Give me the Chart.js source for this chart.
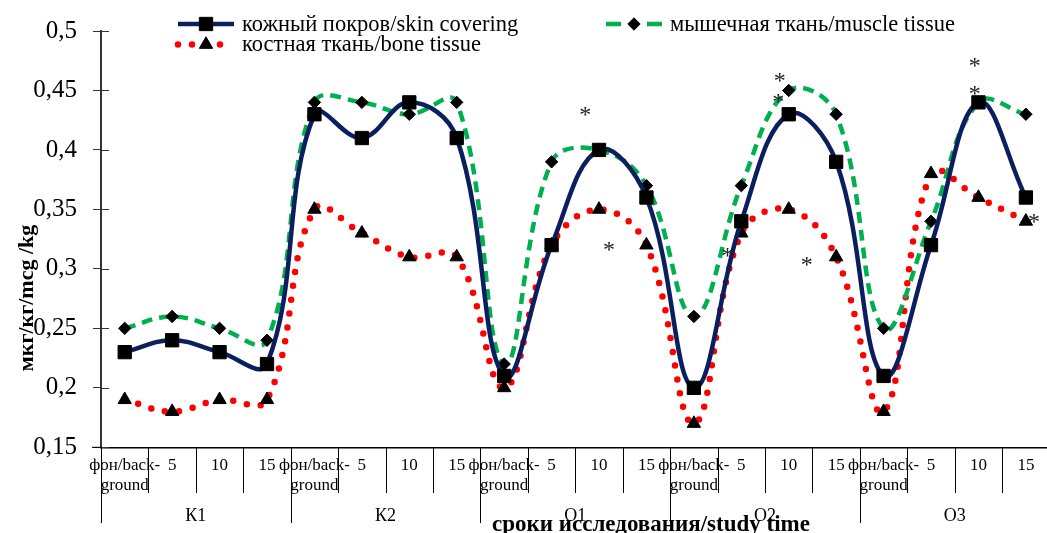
<!DOCTYPE html>
<html>
<head>
<meta charset="utf-8">
<script src="https://cdn.jsdelivr.net/npm/chart.js@4.4.0/dist/chart.umd.min.js"></script>
<style>
    html, body { margin: 0; padding: 0; background: #fff; overflow: hidden; }
    #wrap { width: 1060px; height: 533px; }
</style>
</head>
<body>
<div id="wrap"><canvas id="chart" width="1060" height="533"></canvas></div>
<script>
// study time points inside each group, and the groups
const timePoints = [['фон/back-', 'ground'], '5', '10', '15'];
const groups = ['К1', 'К2', 'О1', 'О2', 'О3'];

// мкг/кг per time point
const skin = [0.23, 0.24, 0.23, 0.22, 0.43, 0.41, 0.44, 0.41, 0.21, 0.32, 0.40, 0.36, 0.20, 0.34, 0.43, 0.39, 0.21, 0.32, 0.44, 0.36];
const muscle = [0.25, 0.26, 0.25, 0.24, 0.44, 0.44, 0.43, 0.44, 0.22, 0.39, 0.40, 0.37, 0.26, 0.37, 0.45, 0.43, 0.25, 0.34, 0.44, 0.43];
const bone = [0.19, 0.18, 0.19, 0.19, 0.35, 0.33, 0.31, 0.31, 0.20, 0.32, 0.35, 0.32, 0.17, 0.33, 0.35, 0.31, 0.18, 0.38, 0.36, 0.34];

// significance asterisks: [category index (fractional), value]
const stars = [[9.71, 0.433], [10.21, 0.319], [12.71, 0.314], [13.81, 0.461], [13.78, 0.444], [14.38, 0.307], [17.92, 0.474], [17.92, 0.450], [19.17, 0.343]];

const yTitle = 'мкг/кг/mcg /kg';
const xTitle = 'сроки исследования/study time';

const labels = groups.flatMap(() => timePoints);
const SERIF = '"Liberation Serif", "Times New Roman", serif';

const COLORS = {
    navy: '#0b1f5e',
    green: '#00b050',
    red: '#ff0000',
    black: '#000000'
};

function line(ctx, x1, y1, x2, y2) {
    ctx.beginPath();
    ctx.moveTo(x1, y1);
    ctx.lineTo(x2, y2);
    ctx.stroke();
}

const decor = {
    id: 'decor',
    afterDraw(chart) {
        const ctx = chart.ctx;
        const area = chart.chartArea;
        const x = chart.scales.x;
        const y = chart.scales.y;
        ctx.save();

        // inner half of y ticks + axis stub on the left
        ctx.strokeStyle = '#333';
        ctx.lineWidth = 1;
        y.ticks.forEach(t => {
            const py = Math.round(y.getPixelForValue(t.value)) + 0.5;
            line(ctx, area.left, py, area.left + 8, py);
        });
        ctx.strokeStyle = '#000';
        line(ctx, area.left - 9, area.bottom, area.left, area.bottom);

        // category dividers and group dividers
        for (let i = 0; i <= labels.length; i++) {
            const px = Math.round(x.getPixelForValue(i - 0.5)) + 0.5;
            const end = i % timePoints.length === 0 ? 523 : 493;
            line(ctx, px, area.bottom, px, end);
        }

        ctx.fillStyle = '#000';
        ctx.textAlign = 'center';
        ctx.textBaseline = 'middle';
        ctx.font = '18px ' + SERIF;
        groups.forEach((g, k) => {
            const cx = x.getPixelForValue(k * timePoints.length + (timePoints.length - 1) / 2);
            ctx.fillText(g, cx, 516);
        });

        ctx.font = 'bold 23px ' + SERIF;
        ctx.textBaseline = 'alphabetic';
        ctx.fillText(xTitle, 651, 531);

        ctx.save();
        ctx.translate(27, 298);
        ctx.rotate(-Math.PI / 2);
        ctx.font = 'bold 22px ' + SERIF;
        ctx.textBaseline = 'middle';
        ctx.fillText(yTitle, 0, 0);
        ctx.restore();

        // asterisks
        ctx.font = '24px ' + SERIF;
        ctx.textBaseline = 'alphabetic';
        ctx.fillStyle = '#222';
        stars.forEach(([i, v]) => {
            ctx.fillText('*', x.getPixelForValue(i), y.getPixelForValue(v) + 11);
        });

        // legend
        const spots = [[175, 24], [603, 24], [175, 44.5]];
        chart.data.datasets.forEach((ds, k) => {
            const [lx, ly] = spots[k];
            ctx.save();
            ctx.strokeStyle = ds.borderColor;
            ctx.lineWidth = ds.borderWidth;
            ctx.lineCap = ds.borderCapStyle || 'butt';
            ctx.setLineDash(ds.legendDash || []);
            line(ctx, lx + 3, ly, lx + 59, ly);
            ctx.restore();
            ctx.fillStyle = COLORS.black;
            ctx.strokeStyle = COLORS.black;
            ctx.lineWidth = 1;
            Chart.helpers.drawPoint(ctx, {pointStyle: ds.pointStyle, radius: ds.pointRadius, rotation: 0, borderWidth: 1}, lx + 31, ly);
            ctx.fillStyle = '#000';
            ctx.font = '22.5px ' + SERIF;
            ctx.textAlign = 'left';
            ctx.textBaseline = 'middle';
            ctx.fillText(ds.label, lx + 67, ly + 1);
        });

        ctx.restore();
    }
};

const data = {
    labels: labels,
    datasets: [
        {
            label: 'кожный покров/skin covering',
            data: skin,
            borderColor: COLORS.navy,
            borderWidth: 4.5,
            tension: 0.4,
            fill: false,
            pointStyle: 'rect',
            pointRadius: 9.4,
            pointBackgroundColor: COLORS.black,
            pointBorderColor: COLORS.black,
            pointBorderWidth: 1,
            legendDash: []
        }, {
            label: 'мышечная ткань/muscle tissue',
            data: muscle,
            borderColor: COLORS.green,
            borderWidth: 4.5,
            borderDash: [11, 7],
            tension: 0.4,
            fill: false,
            pointStyle: 'rectRot',
            pointRadius: 6.2,
            pointBackgroundColor: COLORS.black,
            pointBorderColor: COLORS.black,
            pointBorderWidth: 1,
            legendDash: [15, 26]
        }, {
            label: 'костная ткань/bone tissue',
            data: bone,
            borderColor: COLORS.red,
            borderWidth: 6.5,
            borderDash: [0, 14],
            borderCapStyle: 'round',
            tension: 0.4,
            fill: false,
            pointStyle: 'triangle',
            pointRadius: 7.7,
            pointBackgroundColor: COLORS.black,
            pointBorderColor: COLORS.black,
            pointBorderWidth: 1,
            legendDash: [0, 14]
        }
    ]
};

const config = {
    type: 'line',
    data: data,
    options: {
        responsive: false,
        animation: false,
        layout: {
            padding: {top: 22, right: 1, left: 0, bottom: 0}
        },
        plugins: {
            legend: {display: false},
            tooltip: {enabled: false},
            title: {display: false}
        },
        scales: {
            x: {
                offset: true,
                grid: {display: false, drawTicks: false},
                border: {display: true, color: '#000', width: 1.5},
                ticks: {
                    color: '#000',
                    font: {family: SERIF, size: 17},
                    padding: 8,
                    maxRotation: 0,
                    autoSkip: false
                },
                afterFit: s => { s.height = 85.7; }
            },
            y: {
                min: 0.15,
                max: 0.5,
                ticks: {
                    stepSize: 0.05,
                    color: '#000',
                    font: {family: SERIF, size: 25},
                    padding: 16,
                    callback: v => String(+v.toFixed(2)).replace('.', ',')
                },
                grid: {drawOnChartArea: false, drawTicks: true, tickLength: 8, color: '#333'},
                border: {display: true, color: '#333', width: 2},
                afterFit: s => { s.width = 101; }
            }
        }
    },
    plugins: [decor]
};

let ctx = document.getElementById('chart').getContext('2d');
new Chart(ctx, config);
</script>
</body>
</html>
